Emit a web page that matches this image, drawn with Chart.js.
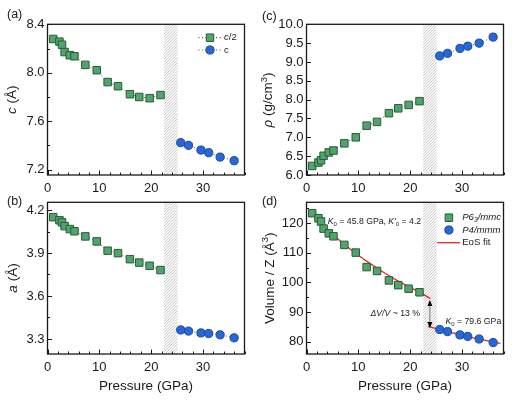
<!DOCTYPE html>
<html>
<head>
<meta charset="utf-8">
<script src="https://cdn.jsdelivr.net/npm/chart.js@4.4.1/dist/chart.umd.min.js"></script>
<style>
  body { margin: 0; background: #fff; width: 523px; height: 402px; overflow: hidden; position: relative; }
  canvas { position: absolute; left: 0; top: 0; }
</style>
</head>
<body>
<canvas id="pa" width="523" height="402"></canvas>
<canvas id="pb" width="523" height="402"></canvas>
<canvas id="pc" width="523" height="402"></canvas>
<canvas id="pd" width="523" height="402"></canvas>
<script>
// --- data ---
const pressureP63 = [1.1, 2.3, 2.8, 3.3, 4.3, 5.2, 7.3, 9.5, 11.6, 13.6, 15.9, 17.7, 19.7, 21.8];
const pressureP4 = [25.7, 27.2, 29.6, 31.1, 33.3, 36.0];

const cP63 = [8.279, 8.257, 8.231, 8.171, 8.145, 8.136, 8.065, 8.021, 7.923, 7.889, 7.823, 7.800, 7.790, 7.816];
const cP4 = [7.423, 7.401, 7.362, 7.340, 7.304, 7.274];

const aP63 = [4.150, 4.129, 4.114, 4.088, 4.067, 4.052, 4.016, 3.981, 3.916, 3.899, 3.857, 3.833, 3.811, 3.781];
const aP4 = [3.363, 3.355, 3.342, 3.338, 3.329, 3.308];

const rhoP63 = [6.24, 6.33, 6.39, 6.51, 6.60, 6.65, 6.84, 7.00, 7.31, 7.41, 7.64, 7.77, 7.86, 7.96];
const rhoP4 = [9.16, 9.23, 9.36, 9.42, 9.50, 9.66];

const volP63 = [123.4, 121.7, 120.6, 118.2, 116.6, 115.6, 112.7, 110.1, 105.2, 103.9, 100.7, 99.1, 97.9, 96.7];
const volP4 = [84.1, 83.4, 82.3, 81.8, 80.9, 79.7];

// EoS fit curves
const fitP63P = [1, 2, 4, 6, 8, 10, 12, 14, 16, 18, 20, 22, 23.9];
const fitP63V = [123.3, 121.5, 118.0, 114.8, 111.9, 109.2, 106.7, 104.4, 102.2, 100.2, 98.3, 96.5, 94.6];
const fitP4P = [23.4, 26, 28, 30, 32, 34, 36, 37.4];
const fitP4V = [85.2, 84.0, 83.1, 82.2, 81.4, 80.6, 79.9, 79.4];

const hatchRange = [22.5, 25.1];
const arrowP = 23.8, arrowV = [94.1, 84.6];

const xTicks = [0, 10, 20, 30];
const xTickLabels = ['0', '10', '20', '30'];
const cTicks = [7.2, 7.6, 8.0, 8.4];
const cTickLabels = ['7.2', '7.6', '8.0', '8.4'];
const aTicks = [3.3, 3.6, 3.9, 4.2];
const aTickLabels = ['3.3', '3.6', '3.9', '4.2'];
const rhoTicks = [6.0, 6.5, 7.0, 7.5, 8.0, 8.5, 9.0, 9.5, 10.0];
const rhoTickLabels = ['6.0', '6.5', '7.0', '7.5', '8.0', '8.5', '9.0', '9.5', '10.0'];
const volTicks = [80, 90, 100, 110, 120];
const volTickLabels = ['80', '90', '100', '110', '120'];

const FONT = "'Liberation Sans', Arial, Helvetica, sans-serif";
const GREEN = '#4fa56b', GREEN_EDGE = '#2d5a38';
const BLUE = '#2767d6', BLUE_EDGE = '#1a47a0';
const INK = '#1a1a1a';

Chart.defaults.font.family = FONT;

const pts = (xs, ys) => xs.map((x, i) => ({ x, y: ys[i] }));

function markerSet(xs, ys, kind, dotted) {
  const sq = kind === 'sq';
  return {
    data: pts(xs, ys),
    showLine: dotted,
    borderColor: '#555',
    borderWidth: 1,
    borderDash: [1, 2.5],
    pointStyle: sq ? 'rect' : 'circle',
    pointRadius: sq ? 5.3 : 4.1,
    pointBackgroundColor: sq ? GREEN : BLUE,
    pointBorderColor: sq ? GREEN_EDGE : BLUE_EDGE,
    pointBorderWidth: 1
  };
}

function fitSet(xs, ys) {
  return {
    data: pts(xs, ys), showLine: true, pointRadius: 0,
    borderColor: '#e8251c', borderWidth: 1.3, tension: 0.4
  };
}

// rich text: segments of [text, style] where style may be 'i', 'sub', 'sup', 'isub'
function fontFor(style, size) {
  const small = style && (style.includes('sub') || style.includes('sup'));
  const it = style && style.includes('i') && style !== 'sup' && style !== 'sub';
  return (it ? 'italic ' : '') + (small ? size * 0.7 : size) + 'px ' + FONT;
}
function rich(ctx, segs, x, y, size, align) {
  const w = segs.map(s => { ctx.font = fontFor(s[1], size); return ctx.measureText(s[0]).width; });
  const total = w.reduce((a, b) => a + b, 0);
  let cx = align === 'center' ? x - total / 2 : align === 'right' ? x - total : x;
  ctx.textAlign = 'left';
  ctx.textBaseline = 'middle';
  segs.forEach((s, i) => {
    ctx.font = fontFor(s[1], size);
    const st = s[1] || '';
    const dy = st.includes('sub') ? size * 0.28 : st.includes('sup') ? -size * 0.35 : 0;
    ctx.fillText(s[0], cx, y + dy);
    cx += w[i];
  });
}

const decor = {
  id: 'decor',
  beforeDatasetsDraw(chart) {
    const { ctx, chartArea: a, scales: { x } } = chart;
    const x0 = x.getPixelForValue(hatchRange[0]), x1 = x.getPixelForValue(hatchRange[1]);
    const h = a.bottom - a.top;
    ctx.save();
    ctx.beginPath();
    ctx.rect(x0, a.top, x1 - x0, h);
    ctx.clip();
    ctx.beginPath();
    ctx.strokeStyle = '#b8b8b8';
    ctx.lineWidth = 0.8;
    for (let k = -h - 10; k < (x1 - x0) + 10; k += 2.8) {
      ctx.moveTo(x0 + k, a.bottom);
      ctx.lineTo(x0 + k + h, a.top);
    }
    ctx.stroke();
    ctx.restore();
  },
  afterDatasetsDraw(chart) {
    const p = chart.options.plugins.decor;
    const { ctx, chartArea: a, scales: { x, y } } = chart;
    ctx.save();
    // inward ticks on bottom and left
    ctx.strokeStyle = INK;
    ctx.lineWidth = 1;
    ctx.beginPath();
    for (let v = 0; v <= x.max + 1e-6; v += 2) {
      const px = Math.round(x.getPixelForValue(v)) + 0.5;
      const len = v % 10 === 0 ? 4.5 : 2.5;
      ctx.moveTo(px, a.bottom);
      ctx.lineTo(px, a.bottom - len);
    }
    const base = p.yTicks[0];
    for (let k = -20; k < 60; k++) {
      const v = base + k * p.yMinor;
      if (v < y.min - 1e-6 || v > y.max + 1e-6) continue;
      const py = Math.round(y.getPixelForValue(v)) + 0.5;
      const major = p.yTicks.some(t => Math.abs(t - v) < 1e-6);
      ctx.moveTo(a.left, py);
      ctx.lineTo(a.left + (major ? 4.5 : 2.5), py);
    }
    ctx.stroke();
    // frame
    ctx.lineWidth = 1.3;
    ctx.strokeRect(a.left, a.top, a.right - a.left, a.bottom - a.top);

    ctx.fillStyle = INK;
    if (p.legend === 'a') {
      const rows = [[a.top + 13.4, 0, [['c', 'i'], ['/2', '']]], [a.top + 25.7, 1, [['c', '']]]];
      rows.forEach(([ry, di, segs]) => {
        const ds = chart.data.datasets[di];
        ctx.save();
        ctx.strokeStyle = '#555';
        ctx.setLineDash([1, 2.5]);
        ctx.beginPath();
        ctx.moveTo(a.left + 151, ry);
        ctx.lineTo(a.left + 174, ry);
        ctx.stroke();
        ctx.restore();
        ctx.fillStyle = ds.pointBackgroundColor;
        ctx.strokeStyle = ds.pointBorderColor;
        ctx.lineWidth = 1;
        Chart.helpers.drawPoint(ctx, { pointStyle: ds.pointStyle, radius: ds.pointRadius, borderWidth: 1 }, a.left + 162.5, ry);
        ctx.fillStyle = INK;
        rich(ctx, segs, a.left + 176.5, ry, 9.6, 'left');
      });
    }
    if (p.legend === 'd') {
      const rows = [[a.top + 15.4, 0, [['P6', 'i'], ['3', 'isub'], ['/mmc', 'i']]], [a.top + 27.7, 1, [['P4/mmm', 'i']]]];
      rows.forEach(([ry, di, segs]) => {
        const ds = chart.data.datasets[di];
        ctx.fillStyle = ds.pointBackgroundColor;
        ctx.strokeStyle = ds.pointBorderColor;
        ctx.lineWidth = 1;
        Chart.helpers.drawPoint(ctx, { pointStyle: ds.pointStyle, radius: ds.pointRadius, borderWidth: 1 }, a.left + 142.4, ry);
        ctx.fillStyle = INK;
        rich(ctx, segs, a.left + 155.7, ry, 9.6, 'left');
      });
      ctx.strokeStyle = '#e8251c';
      ctx.lineWidth = 1.3;
      ctx.beginPath();
      ctx.moveTo(a.left + 130.7, a.top + 40.4);
      ctx.lineTo(a.left + 153.7, a.top + 40.4);
      ctx.stroke();
      ctx.fillStyle = INK;
      rich(ctx, [['EoS fit', '']], a.left + 155.7, a.top + 40.4, 9.6, 'left');

      // volume collapse arrow
      const ax = x.getPixelForValue(arrowP);
      const yt = y.getPixelForValue(arrowV[0]), yb = y.getPixelForValue(arrowV[1]);
      ctx.strokeStyle = '#777';
      ctx.lineWidth = 1;
      ctx.beginPath();
      ctx.moveTo(ax, yt + 4);
      ctx.lineTo(ax, yb - 4);
      ctx.stroke();
      ctx.fillStyle = '#000';
      ctx.beginPath();
      ctx.moveTo(ax, yt); ctx.lineTo(ax - 2.5, yt + 6); ctx.lineTo(ax + 2.5, yt + 6); ctx.closePath();
      ctx.moveTo(ax, yb); ctx.lineTo(ax - 2.5, yb - 6); ctx.lineTo(ax + 2.5, yb - 6); ctx.closePath();
      ctx.fill();

      ctx.fillStyle = INK;
      rich(ctx, [['K', 'i'], ['0', 'sub'], [' = 45.8 GPa, ', ''], ["K'", 'i'], ['0', 'sub'], [' = 4.2', '']],
        x.getPixelForValue(4.1), y.getPixelForValue(120.5), 8.7, 'left');
      rich(ctx, [['K', 'i'], ['0', 'sub'], [' = 79.6 GPa', '']],
        x.getPixelForValue(26.8), y.getPixelForValue(86.8), 8.7, 'left');
      rich(ctx, [['\u0394V/V', 'i'], [' ~ 13 %', '']],
        x.getPixelForValue(21.9), y.getPixelForValue(89.6), 8.7, 'right');
    }
    ctx.restore();
  },
  afterDraw(chart) {
    const p = chart.options.plugins.decor;
    const { ctx, chartArea: a } = chart;
    ctx.save();
    ctx.fillStyle = INK;
    // y title, rotated
    ctx.save();
    ctx.translate(p.yTitlePos[0], p.yTitlePos[1]);
    ctx.rotate(-Math.PI / 2);
    rich(ctx, p.yTitle, 0, 0, 13.5, 'center');
    ctx.restore();
    if (p.xTitle) {
      rich(ctx, [['Pressure (GPa)', '']], (a.left + a.right) / 2, 386.7, 13.5, 'center');
    }
    rich(ctx, [[p.label, '']], p.labelPos[0], p.labelPos[1], 12.5, 'left');
    ctx.restore();
  }
};

function makePanel(id, p) {
  const [left, top, right, bottom] = p.box;
  return new Chart(document.getElementById(id), {
    type: 'scatter',
    data: { datasets: p.datasets },
    plugins: [decor],
    options: {
      responsive: false,
      animation: false,
      events: [],
      layout: { padding: { top, right: 523 - right, left: 0, bottom: 0 } },
      plugins: { legend: { display: false }, tooltip: { enabled: false }, decor: p },
      scales: {
        x: {
          type: 'linear', min: 0, max: 38,
          afterBuildTicks: s => { s.ticks = xTicks.map(v => ({ value: v })); },
          afterFit: s => { s.height = 402 - bottom; },
          grid: { display: false, drawTicks: false },
          border: { display: false },
          ticks: { padding: 6, color: INK, font: { size: 13 }, maxRotation: 0, callback: (v, i) => xTickLabels[i] }
        },
        y: {
          type: 'linear', min: p.yRange[0], max: p.yRange[1],
          afterBuildTicks: s => { s.ticks = p.yTicks.map(v => ({ value: v })); },
          afterFit: s => { s.width = left; },
          grid: { display: false, drawTicks: false },
          border: { display: false },
          ticks: { padding: 3, color: INK, font: { size: 13 }, callback: (v, i) => p.yTickLabels[i] }
        }
      }
    }
  });
}

makePanel('pa', {
  box: [47.5, 24.3, 244.5, 175], yRange: [7.156, 8.4],
  yTicks: cTicks, yTickLabels: cTickLabels, yMinor: 0.2,
  datasets: [markerSet(pressureP63, cP63, 'sq', true), markerSet(pressureP4, cP4, 'ci', true)],
  yTitle: [['c', 'i'], [' (\u00c5)', '']], yTitlePos: [12.3, 99.7],
  label: '(a)', labelPos: [7, 15], legend: 'a', xTitle: false
});
makePanel('pb', {
  box: [47.5, 202.3, 244.5, 354], yRange: [3.195, 4.254],
  yTicks: aTicks, yTickLabels: aTickLabels, yMinor: 0.15,
  datasets: [markerSet(pressureP63, aP63, 'sq', true), markerSet(pressureP4, aP4, 'ci', true)],
  yTitle: [['a', 'i'], [' (\u00c5)', '']], yTitlePos: [13.3, 278],
  label: '(b)', labelPos: [7, 201.7], xTitle: true
});
makePanel('pc', {
  box: [306.5, 24.3, 503.5, 175], yRange: [6, 10],
  yTicks: rhoTicks, yTickLabels: rhoTickLabels, yMinor: 0.5,
  datasets: [markerSet(pressureP63, rhoP63, 'sq', true), markerSet(pressureP4, rhoP4, 'ci', true)],
  yTitle: [['\u03c1', 'i'], [' (g/cm', ''], ['3', 'sup'], [')', '']], yTitlePos: [268.7, 100],
  label: '(c)', labelPos: [262, 16.7], xTitle: false
});
makePanel('pd', {
  box: [306.5, 202.3, 503.5, 354], yRange: [75.84, 127.09],
  yTicks: volTicks, yTickLabels: volTickLabels, yMinor: 5,
  datasets: [markerSet(pressureP63, volP63, 'sq', false), markerSet(pressureP4, volP4, 'ci', false),
             fitSet(fitP63P, fitP63V), fitSet(fitP4P, fitP4V)],
  yTitle: [['Volume / Z (\u00c5', ''], ['3', 'sup'], [')', '']], yTitlePos: [270.3, 278.3],
  label: '(d)', labelPos: [262, 201.7], legend: 'd', xTitle: true
});
</script>
</body>
</html>
